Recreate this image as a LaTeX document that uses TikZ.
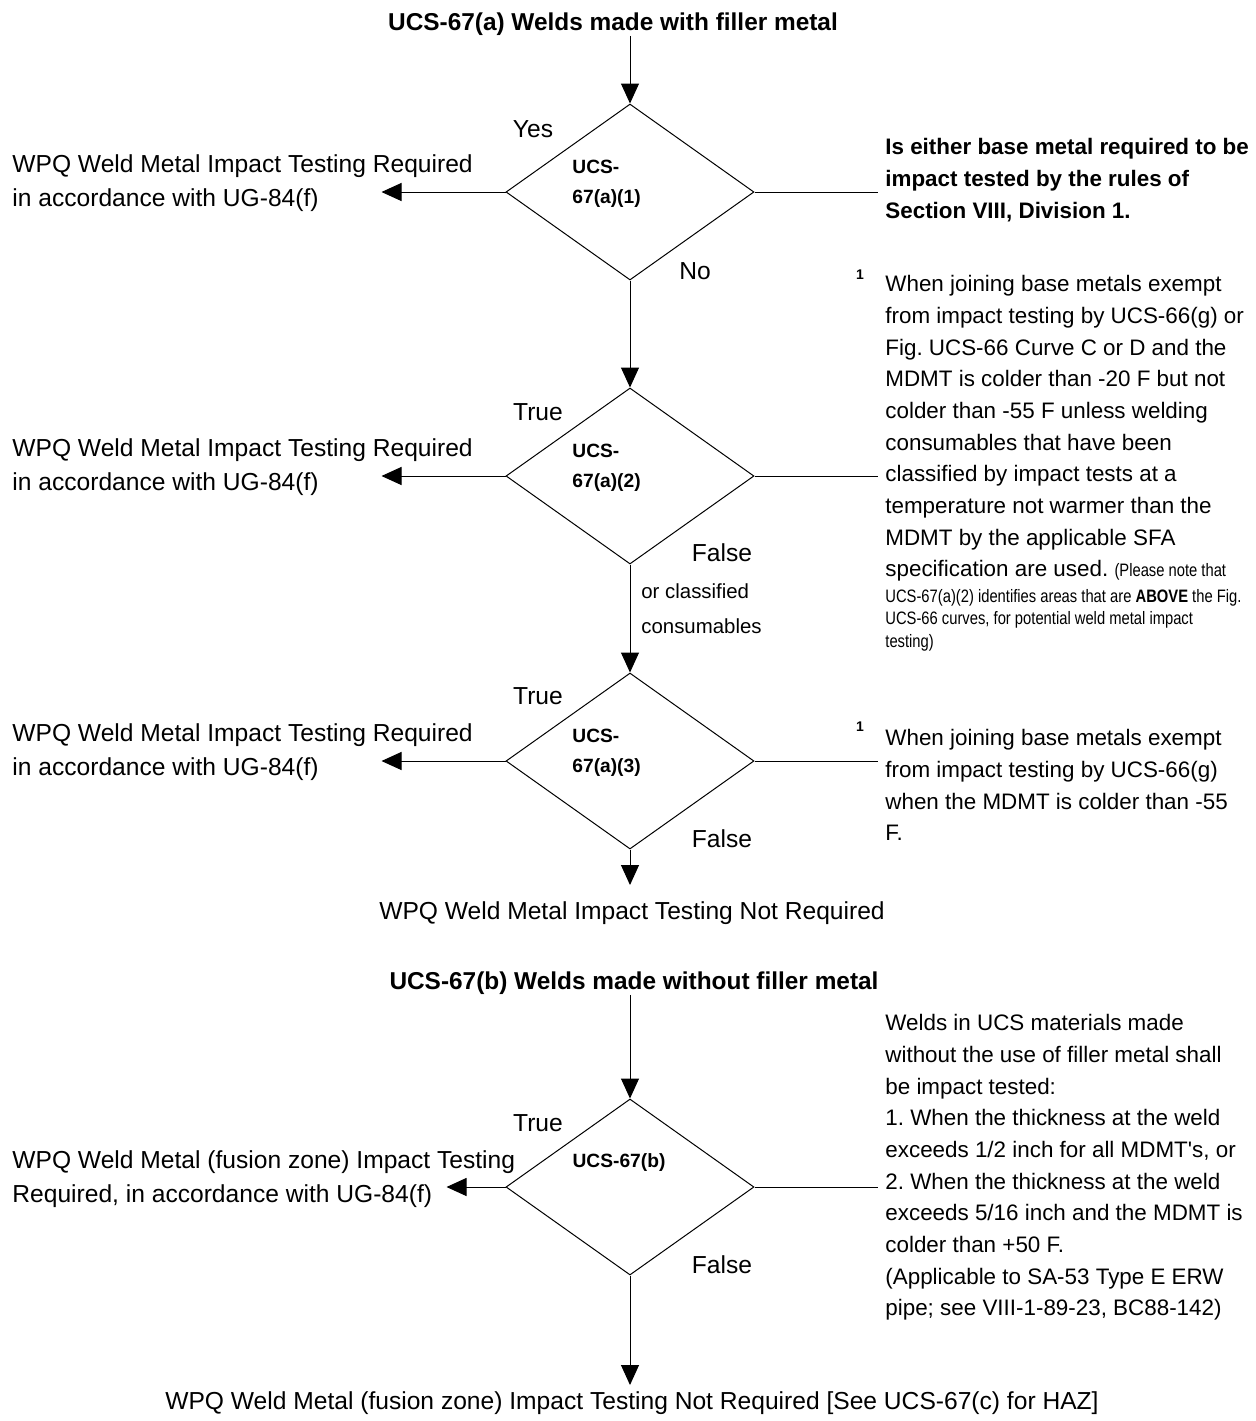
\documentclass[tikz,border=0pt]{standalone}
\usepackage{fontspec}
\setmainfont{Liberation Sans}
\newfontfamily\narrowsf[FakeStretch=0.82]{Liberation Sans}
\frenchspacing
\usetikzlibrary{arrows.meta,shapes.geometric,calc}
\tikzset{
  arr/.style={-{Triangle[length=10pt,width=9pt]}, line width=0.5pt},
  lnk/.style={line width=0.5pt, shorten >=3.5pt},
  dec/.style={diamond, draw, line width=0.5pt, minimum width=124pt, minimum height=88pt, inner sep=0pt},
  ttl/.style={font=\fontsize{12.2}{15}\selectfont\bfseries, inner sep=0pt},
  lab/.style={font=\fontsize{12.3}{17}\selectfont, inner sep=0pt},
  res/.style={lab, align=left, anchor=north west},
  dlab/.style={font=\fontsize{9.6}{15}\selectfont\bfseries, inner sep=0pt, align=left, anchor=north west},
  note/.style={font=\fontsize{11.2}{15.85}\selectfont, inner sep=0pt, align=left, anchor=north west},
  nsmall/.style={font=\narrowsf\fontsize{9}{11.25}\selectfont, inner sep=0pt, align=left, anchor=north west},
  fn/.style={font=\fontsize{7}{8}\selectfont\bfseries, inner sep=0pt},
}

\begin{document}
\begin{tikzpicture}[x=0.5pt,y=-0.5pt]
\useasboundingbox (0,0) rectangle (1256,1421);

% ============ UCS-67(a): welds made with filler metal ============
\node[ttl] (ttlA) at (613,24) {UCS-67(a) Welds made with filler metal};
\node[dec] (d1) at (630,192) {};
\node[dec] (d2) at (630,476) {};
\node[dec] (d3) at (630,761) {};
\node[dlab] (l1) at (572,160) {UCS-\\67(a)(1)};
\node[dlab] (l2) at (572,444) {UCS-\\67(a)(2)};
\node[dlab] (l3) at (572,729) {UCS-\\67(a)(3)};

% branch labels
\node[lab] (yes1) at (533,129) {Yes};
\node[lab] (no1) at (695,271) {No};
\node[lab] (tr2) at (538,412) {True};
\node[lab] (fa2) at (722,553) {False};
\node[lab, font=\fontsize{10.2}{17.5}\selectfont, align=left, anchor=north west] (oc2) at (641,583)
  {or classified\\consumables};
\node[lab] (tr3) at (538,696) {True};
\node[lab] (fa3) at (722,839) {False};

% results on the left
\node[res] (r1) at (12,154) {WPQ Weld Metal Impact Testing Required\\in accordance with UG-84(f)};
\node[res] (r2) at (12,438) {WPQ Weld Metal Impact Testing Required\\in accordance with UG-84(f)};
\node[res] (r3) at (12,723) {WPQ Weld Metal Impact Testing Required\\in accordance with UG-84(f)};
\coordinate (t1) at ($(d1.west)+(-124,0)$);
\coordinate (t2) at ($(d2.west)+(-124,0)$);
\coordinate (t3) at ($(d3.west)+(-124,0)$);
\node[lab, anchor=north, inner ysep=8pt] (na) at (632,885) {WPQ Weld Metal Impact Testing Not Required};

% questions and notes on the right
\node[note, font=\fontsize{11.2}{15.85}\selectfont\bfseries] (q1) at (885,138)
  {Is either base metal required to be\\impact tested by the rules of\\Section VIII, Division 1.};
\node[fn] (m1) at (860,275) {1};
\node[note] (n1) at (885,275)
  {When joining base metals exempt\\from impact testing by UCS-66(g) or\\Fig. UCS-66 Curve C or D and the\\
   MDMT is colder than -20 F but not\\colder than -55 F unless welding\\consumables that have been\\
   classified by impact tests at a\\temperature not warmer than the\\MDMT by the applicable SFA\\
   specification are used. {\narrowsf\fontsize{9}{11.25}\selectfont(Please note that}};
\node[nsmall] (n1b) at (885,589)
  {UCS-67(a)(2) identifies areas that are \textbf{ABOVE} the Fig.\\UCS-66 curves, for potential weld metal impact\\testing)};
\node[fn] (m2) at (860,727) {1};
\node[note] (n2) at (885,729)
  {When joining base metals exempt\\from impact testing by UCS-66(g)\\when the MDMT is colder than -55\\F.};

% connectors
\draw[arr] (ttlA.south -| d1.north) -- (d1.north);
\draw[arr] (d1.south) -- (d2.north);
\draw[arr] (d2.south) -- (d3.north);
\draw[arr] (d3.south) -- (d3.south |- na.north);
\draw[arr] (d1.west) -- (t1);
\draw[arr] (d2.west) -- (t2);
\draw[arr] (d3.west) -- (t3);
\draw[lnk] (d1.east) -- (d1.east -| q1.west);
\draw[lnk] (d2.east) -- (d2.east -| n1.west);
\draw[lnk] (d3.east) -- (d3.east -| n2.west);

% ============ UCS-67(b): welds made without filler metal ============
\node[ttl] (ttlB) at (634,983) {UCS-67(b) Welds made without filler metal};
\node[dec] (d4) at (630,1187) {};
\node[dlab, anchor=center] (l4) at (619,1163) {UCS-67(b)};
\node[lab] (tr4) at (538,1123) {True};
\node[lab] (fa4) at (722,1265) {False};
\node[res] (r4) at (12,1150) {WPQ Weld Metal (fusion zone) Impact Testing\\Required, in accordance with UG-84(f)};
\coordinate (t4) at ($(d4.west)+(-59,0)$);
\node[note] (nb) at (885,1014)
  {Welds in UCS materials made\\without the use of filler metal shall\\be impact tested:\\
   1. When the thickness at the weld\\exceeds 1/2 inch for all MDMT\textquotesingle s, or\\
   2. When the thickness at the weld\\exceeds 5/16 inch and the MDMT is\\colder than +50 F.\\
   (Applicable to SA-53 Type E ERW\\pipe; see VIII-1-89-23, BC88-142)};
\node[lab, anchor=north, inner ysep=3pt] (nbot) at (632,1385)
  {WPQ Weld Metal (fusion zone) Impact Testing Not Required [See UCS-67(c) for HAZ]};

\draw[arr] (ttlB.south -| d4.north) -- (d4.north);
\draw[arr] (d4.south) -- (d4.south |- nbot.north);
\draw[arr] (d4.west) -- (t4);
\draw[lnk] (d4.east) -- (d4.east -| nb.west);

\end{tikzpicture}
\end{document}
